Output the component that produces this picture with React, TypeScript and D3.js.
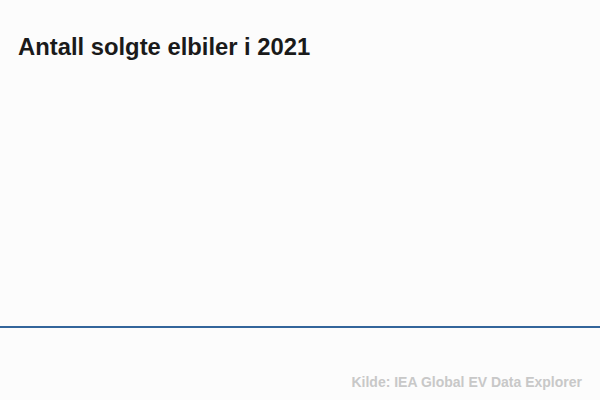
import React, { useEffect, useRef } from "react";
import * as d3 from "d3";

// EV sales 2021 (IEA Global EV Data Explorer) - bars start at zero and grow in
const countries = ["Kina", "USA", "Tyskland", "Frankrike", "Storbritannia", "Norge"];
const sales = [3300000, 630000, 690000, 320000, 310000, 150000];
const progress = 0; // animation frame captured at start

const App: React.FC = () => {
  const svgRef = useRef<SVGSVGElement | null>(null);

  useEffect(() => {
    document.body.style.margin = "0";
    const width = 600;
    const height = 400;
    const marginTop = 80;
    const marginRight = 0;
    const marginBottom = 73;
    const marginLeft = 0;

    const svg = d3
      .select(svgRef.current)
      .attr("width", width)
      .attr("height", height)
      .attr("viewBox", [0, 0, width, height])
      .style("display", "block")
      .style("background", "#fcfcfc")
      .style("font-family", "'Liberation Sans', Arial, sans-serif");
    svg.selectAll("*").remove();

    const x = d3
      .scaleBand()
      .domain(countries)
      .range([marginLeft + 40, width - marginRight - 40])
      .padding(0.2);

    const y = d3
      .scaleLinear()
      .domain([0, d3.max(sales) as number])
      .nice()
      .range([height - marginBottom, marginTop]);

    svg
      .append("text")
      .attr("x", 18)
      .attr("y", 55)
      .attr("fill", "#1a1a1a")
      .attr("font-size", 23.8)
      .attr("font-weight", "bold")
      .text("Antall solgte elbiler i 2021");

    svg
      .append("g")
      .selectAll("rect")
      .data(sales)
      .join("rect")
      .attr("x", (_, i) => x(countries[i]) as number)
      .attr("y", (d) => y(d * progress))
      .attr("width", x.bandwidth())
      .attr("height", (d) => y(0) - y(d * progress))
      .attr("fill", "#33659b");

    // baseline
    svg
      .append("line")
      .attr("x1", 0)
      .attr("x2", width)
      .attr("y1", y(0))
      .attr("y2", y(0))
      .attr("stroke", "#33659b")
      .attr("stroke-width", 1.8);

    svg
      .append("text")
      .attr("x", 582)
      .attr("y", 387)
      .attr("text-anchor", "end")
      .attr("fill", "#c8c8c8")
      .attr("font-size", 14)
      .attr("font-weight", "bold")
      .text("Kilde: IEA Global EV Data Explorer");
  }, []);

  return <svg ref={svgRef}></svg>;
};

export default App;
